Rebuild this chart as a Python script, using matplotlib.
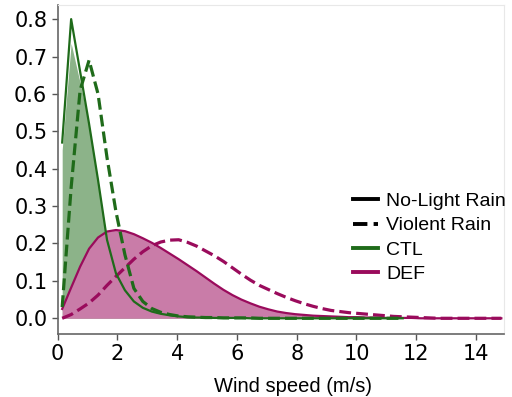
import matplotlib.pyplot as plt
from matplotlib.lines import Line2D

plt.rcParams['font.family'] = ['DejaVu Sans']
text_font = ['Liberation Sans', 'DejaVu Sans']

# wind speed bin centres (m/s)
wind = [0.15, 0.45, 0.75, 1.05, 1.35, 1.65, 1.95, 2.25, 2.55, 2.85,
        3.15, 3.45, 3.75, 4.05, 4.35, 4.65, 4.95, 5.25, 5.55, 5.85,
        6.15, 6.45, 6.75, 7.05, 7.35, 7.65, 7.95, 8.25, 8.55, 8.85,
        9.15, 9.45, 9.75, 10.05, 10.35, 10.65, 10.95, 11.25, 11.55, 11.85,
        12.15, 12.45, 12.75, 13.05, 13.35, 13.65, 13.95, 14.25, 14.55, 14.85]

# CTL, no-light rain (line) and its shaded density
ctl_light = [0.47, 0.80, 0.66, 0.52, 0.37, 0.21, 0.12, 0.075, 0.045, 0.028,
             0.018, 0.012, 0.008, 0.005, 0.003, 0.002, 0.002, 0.001, 0.001, 0.001,
             0.001, 0.0, 0.0, 0.0, 0.0, 0.0, 0.0, 0.0, 0.0, 0.0,
             0.0, 0.0, 0.0, 0.0, 0.0, 0.0, 0.0, 0.0, 0.0]
ctl_fill = [0.45, 0.735, 0.63, 0.52, 0.37, 0.21, 0.12, 0.075, 0.045, 0.028,
            0.018, 0.012, 0.008, 0.005, 0.003, 0.002, 0.002, 0.001, 0.001, 0.001,
            0.001, 0.0, 0.0, 0.0, 0.0, 0.0, 0.0, 0.0, 0.0, 0.0,
            0.0, 0.0, 0.0, 0.0, 0.0, 0.0, 0.0, 0.0, 0.0]
# CTL, violent rain
ctl_violent = [0.03, 0.35, 0.61, 0.69, 0.60, 0.43, 0.285, 0.17, 0.08, 0.045,
               0.026, 0.016, 0.010, 0.006, 0.004, 0.003, 0.002, 0.002, 0.001, 0.001,
               0.001, 0.001, 0.0, 0.0, 0.0, 0.0, 0.0, 0.0, 0.0, 0.0,
               0.0, 0.0, 0.0, 0.0, 0.0, 0.0, 0.0, 0.0, 0.0]

# DEF, no-light rain
def_light = [0.025, 0.082, 0.138, 0.186, 0.216, 0.232, 0.236, 0.233, 0.225, 0.214,
             0.202, 0.188, 0.173, 0.158, 0.142, 0.126, 0.109, 0.092, 0.076, 0.062,
             0.050, 0.040, 0.031, 0.024, 0.018, 0.014, 0.011, 0.009, 0.007, 0.006,
             0.005, 0.004, 0.003, 0.003, 0.002, 0.002, 0.001, 0.001, 0.001, 0.001,
             0.0, 0.0, 0.0, 0.0, 0.0, 0.0, 0.0, 0.0, 0.0, 0.0]
# DEF, violent rain
def_violent = [0.0, 0.01, 0.025, 0.041, 0.062, 0.088, 0.112, 0.135, 0.158, 0.178,
               0.194, 0.204, 0.209, 0.210, 0.203, 0.193, 0.180, 0.167, 0.152, 0.135,
               0.118, 0.102, 0.088, 0.077, 0.066, 0.056, 0.047, 0.039, 0.032, 0.026,
               0.021, 0.018, 0.015, 0.013, 0.011, 0.009, 0.007, 0.005, 0.004, 0.003,
               0.002, 0.001, 0.0, 0.0, 0.0, 0.0, 0.0, 0.0, 0.0, 0.0]

green = '#1f6b1a'
magenta = '#9a0b5c'
green_fill = '#8cb389'
magenta_fill = '#c97ca8'

fig = plt.figure(figsize=(5.12, 3.97), dpi=100)
ax = fig.add_axes([0.1127, 0.1587, 0.8723, 0.828])

n_ctl = len(ctl_light)
ax.fill_between(wind[:n_ctl], 0, ctl_fill, color=green_fill, lw=0, zorder=1)
ax.fill_between(wind, 0, def_light, color=magenta_fill, lw=0, zorder=2)

ax.plot(wind[:n_ctl], ctl_light, color=green, lw=1.6, zorder=4)
ax.plot(wind[:n_ctl], ctl_violent, color=green, lw=2.3, ls='--', zorder=4)
ax.plot(wind, def_light, color=magenta, lw=1.6, zorder=3)
ax.plot(wind, def_violent, color=magenta, lw=2.3, ls='--', zorder=3)

ax.set_xlim(0, 14.95)
ax.set_ylim(-0.042, 0.837)
ax.set_xticks([0, 2, 4, 6, 8, 10, 12, 14])
ax.set_yticks([0.0, 0.1, 0.2, 0.3, 0.4, 0.5, 0.6, 0.7, 0.8])
ax.tick_params(labelsize=15, colors='#555555', labelcolor='black', length=4, width=1)
ax.set_xlabel('Wind speed (m/s)', fontsize=14.5, family=text_font)
ax.xaxis.set_label_coords(0.527, -0.13)

for side in ['left', 'bottom']:
    ax.spines[side].set_color('#666666')
    ax.spines[side].set_linewidth(1.2)
for side in ['top', 'right']:
    ax.spines[side].set_color('#e8e8e8')

handles = [Line2D([], [], color='black', lw=2.8),
           Line2D([], [], color='black', lw=2.8, ls='--'),
           Line2D([], [], color=green, lw=2.8),
           Line2D([], [], color=magenta, lw=2.8)]
labels = ['No-Light Rain', 'Violent Rain', 'CTL', 'DEF']
ax.legend(handles, labels, frameon=False, loc='upper left',
          prop={'family': text_font, 'size': 14},
          bbox_to_anchor=(0.69, 0.515), bbox_transform=fig.transFigure,
          handlelength=1.25, handletextpad=0.45, labelspacing=0.34, borderaxespad=0,
          borderpad=0)

fig.savefig('out.png', dpi=100)
